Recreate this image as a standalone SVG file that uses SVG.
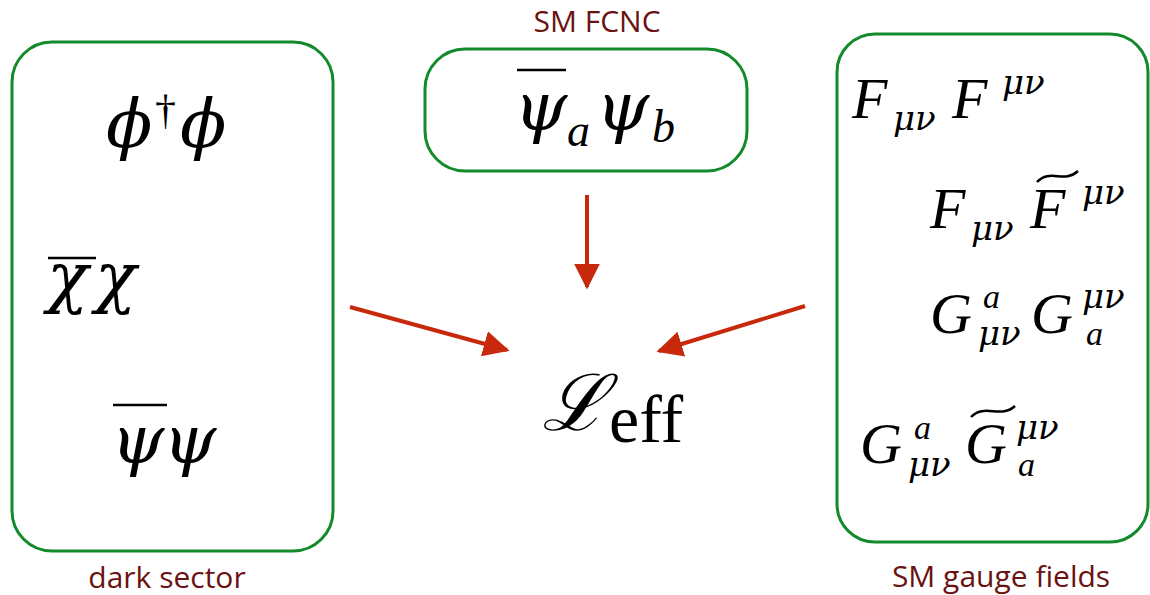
<svg xmlns="http://www.w3.org/2000/svg" width="1150" height="595" viewBox="0 0 1150 595">
  <style>
    .box { fill: none; stroke: #138a2c; stroke-width: 3; }
    .lbl { font-family: "Open Sans", "Liberation Sans", sans-serif; font-size: 30px; fill: #6b1212; text-anchor: middle; }
    .m { font-family: "Liberation Serif", "DejaVu Serif", serif; font-style: italic; fill: #000; }
    .g { font-family: "DejaVu Serif", "Liberation Serif", serif; font-style: italic; }
    .big { font-size: 68px; }
    .mid { font-size: 58px; }
    .sc { font-size: 34px; }
    .up { font-family: "Liberation Serif", "DejaVu Serif", serif; font-style: normal; fill: #000; }
    .bar { stroke: #000; stroke-width: 2.5; }
    .tl { fill: none; stroke: #000; stroke-width: 2.5; }
    .arrow { stroke: #c8290c; stroke-width: 4; fill: none; }
  </style>
  <defs>
    <marker id="head" viewBox="0 0 10 10" refX="9" refY="5" markerWidth="6.5" markerHeight="6.5" markerUnits="strokeWidth" orient="auto">
      <path d="M0,0 L10,5 L0,10 Z" fill="#c8290c"/>
    </marker>
  </defs>

  <!-- dark sector -->
  <g id="dark-sector">
    <rect class="box" x="12" y="42" width="321" height="509" rx="40" ry="40"/>
    <text class="m big"><tspan class="g" x="106" y="147">ϕ</tspan><tspan class="up" x="155" y="124" font-size="42">†</tspan><tspan class="g" x="180" y="147">ϕ</tspan></text>
    <line class="bar" x1="48" y1="258" x2="96" y2="258"/>
    <text class="m big"><tspan class="g" x="47" y="300">χ</tspan><tspan class="g" x="95" y="300">χ</tspan></text>
    <line class="bar" x1="113" y1="405" x2="167" y2="405"/>
    <text class="m big"><tspan class="g" x="111" y="463">ψ</tspan><tspan class="g" x="163" y="463">ψ</tspan></text>
    <text class="lbl" x="167" y="588">dark sector</text>
  </g>

  <!-- SM FCNC -->
  <g id="sm-fcnc">
    <rect class="box" x="425" y="49" width="322" height="122" rx="40" ry="40"/>
    <line class="bar" x1="517" y1="70" x2="566" y2="70"/>
    <text class="m big"><tspan class="g" x="514" y="130">ψ</tspan><tspan font-size="46" x="567" y="146">a</tspan><tspan class="g" x="596" y="130">ψ</tspan><tspan font-size="46" x="652" y="142">b</tspan></text>
    <text class="lbl" x="597" y="32">SM FCNC</text>
  </g>

  <!-- SM gauge fields -->
  <g id="sm-gauge">
    <rect class="box" x="837" y="34" width="311" height="508" rx="38" ry="38"/>
    <!-- F_{mu nu} F^{mu nu} -->
    <text class="m mid"><tspan x="852" y="118">F</tspan><tspan class="g sc" x="893" y="130">μν</tspan><tspan x="952" y="118">F</tspan><tspan class="g sc" x="1002" y="94">μν</tspan></text>
    <!-- F_{mu nu} \tilde F^{mu nu} -->
    <text class="m mid"><tspan x="930" y="228">F</tspan><tspan class="g sc" x="971" y="240">μν</tspan><tspan x="1030" y="228">F</tspan><tspan class="g sc" x="1082" y="204">μν</tspan></text>
    <path class="tl" d="M1037,182 C1050,168 1064,184 1078,171"/>
    <!-- G^a_{mu nu} G_a^{mu nu} -->
    <text class="m mid"><tspan x="930" y="333">G</tspan><tspan class="sc" x="983" y="308">a</tspan><tspan class="g sc" x="978" y="345">μν</tspan><tspan x="1031" y="333">G</tspan><tspan class="g sc" x="1082" y="308">μν</tspan><tspan class="sc" x="1086" y="345">a</tspan></text>
    <!-- G^a_{mu nu} \tilde G_a^{mu nu} -->
    <text class="m mid"><tspan x="860" y="463">G</tspan><tspan class="sc" x="914" y="439">a</tspan><tspan class="g sc" x="908" y="476">μν</tspan><tspan x="965" y="463">G</tspan><tspan class="g sc" x="1016" y="439">μν</tspan><tspan class="sc" x="1018" y="476">a</tspan></text>
    <path class="tl" d="M971,417 C984,403 1001,419 1015,406"/>
    <text class="lbl" x="1001" y="587">SM gauge fields</text>
  </g>

  <!-- effective Lagrangian -->
  <g id="l-eff">
    <text x="542" y="430" font-family="'DejaVu Serif', serif" font-style="italic" font-size="78" fill="#000">ℒ<tspan class="up" x="609" y="442" font-size="68">eff</tspan></text>
  </g>

  <!-- connectors -->
  <g id="connectors">
    <line class="arrow" x1="350" y1="307" x2="507" y2="350" marker-end="url(#head)"/>
    <line class="arrow" x1="587" y1="195" x2="587" y2="287" marker-end="url(#head)"/>
    <line class="arrow" x1="805" y1="306" x2="659" y2="351" marker-end="url(#head)"/>
  </g>
</svg>
